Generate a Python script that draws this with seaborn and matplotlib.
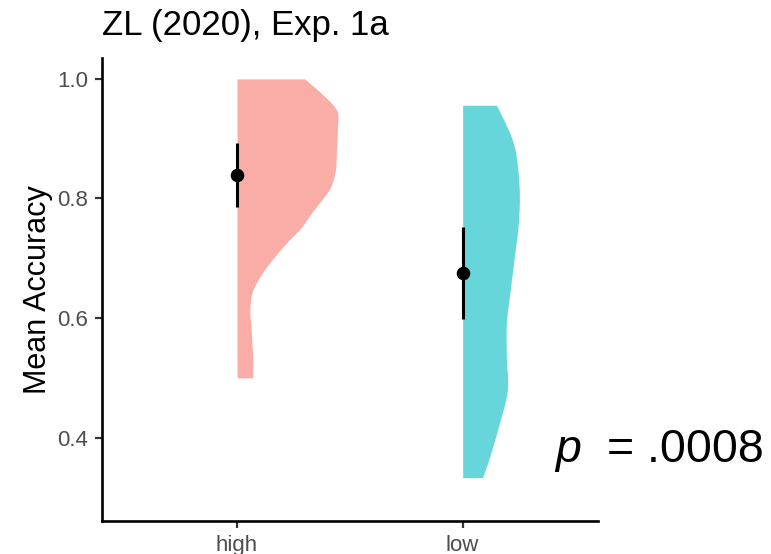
import matplotlib
matplotlib.use("Agg")
import matplotlib.pyplot as plt
import seaborn as sns
import numpy as np
import pandas as pd

# ---- data ----
categories = ["high", "low"]
colors = ["#FAADA6", "#66D6DA"]

high_levels = [1.000, 0.977, 0.948, 0.920, 0.886, 0.848, 0.819, 0.797, 0.776, 0.752,
               0.726, 0.697, 0.669, 0.642, 0.613, 0.585, 0.558, 0.530, 0.500]
high_widths = [0.300, 0.370, 0.441, 0.445, 0.441, 0.436, 0.414, 0.374, 0.330, 0.286,
               0.220, 0.154, 0.101, 0.066, 0.057, 0.062, 0.066, 0.070, 0.070]

low_levels = [0.956, 0.926, 0.898, 0.869, 0.814, 0.759, 0.702, 0.647, 0.592, 0.535,
              0.480, 0.424, 0.367, 0.333]
low_widths = [0.150, 0.189, 0.220, 0.238, 0.251, 0.247, 0.229, 0.211, 0.194, 0.194,
              0.198, 0.163, 0.119, 0.088]

means = [0.839, 0.675]
ci_low = [0.786, 0.598]
ci_high = [0.893, 0.752]

yticks = [0.4, 0.6, 0.8, 1.0]
title = "ZL (2020), Exp. 1a"
ylabel = "Mean Accuracy"
p_text = "= .0008"


def smooth_outline(levels, widths, n=12):
    """Catmull-Rom pass through the read outline points (drawing only)."""
    y = np.asarray(levels, float)
    w = np.asarray(widths, float)
    P = np.column_stack([y, w])
    P = np.vstack([P[0], P, P[-1]])
    out = []
    for k in range(1, len(P) - 2):
        p0, p1, p2, p3 = P[k - 1], P[k], P[k + 1], P[k + 2]
        for t in np.linspace(0, 1, n, endpoint=False):
            t2, t3 = t * t, t * t * t
            pt = 0.5 * ((2 * p1) + (-p0 + p2) * t + (2 * p0 - 5 * p1 + 4 * p2 - p3) * t2
                        + (-p0 + 3 * p1 - 3 * p2 + p3) * t3)
            out.append(pt)
    out.append(P[-2])
    out = np.array(out)
    return out[:, 0], np.clip(out[:, 1], 0, None)


# ---- style ----
sns.set_style("ticks")
plt.rcParams["font.family"] = ["Liberation Sans", "DejaVu Sans"]
plt.rcParams["text.color"] = "black"

fig = plt.figure(figsize=(7.71, 5.54), dpi=100)
ax = fig.add_axes([0.1319, 0.0601, 0.7756 - 0.1319, 0.8953 - 0.0601])

profiles = [(high_levels, high_widths), (low_levels, low_widths)]
for i, (lv, wd) in enumerate(profiles):
    pos = i + 1
    ys, ws = smooth_outline(lv, wd)
    ax.fill_betweenx(ys, pos, pos + ws, color=colors[i], linewidth=0, zorder=1)

df = pd.DataFrame({"x": [1, 2], "mean": means, "lo": ci_low, "hi": ci_high})
ax.vlines(df["x"], df["lo"], df["hi"], color="black", linewidth=2.2, zorder=3)
sns.scatterplot(data=df, x="x", y="mean", ax=ax, color="black", s=95,
                edgecolor="black", linewidth=0, zorder=4, legend=False)

ax.set_xlim(0.4, 2.6)
ax.set_ylim(0.261, 1.035)
ax.set_xticks([1, 2])
ax.set_xticklabels(categories)
ax.set_yticks(yticks)
ax.set_yticklabels([f"{t:.1f}" for t in yticks])
ax.set_xlabel("")
ax.set_ylabel(ylabel, fontsize=22, labelpad=2.5, color="black")
ax.tick_params(axis="both", labelsize=16, labelcolor="#4D4D4D", length=5, width=1.6,
               color="#333333", pad=5)
sns.despine(ax=ax)
for sp in ["left", "bottom"]:
    ax.spines[sp].set_linewidth(1.9)
    ax.spines[sp].set_color("black")

ax.set_title(title, loc="left", fontsize=25, pad=16.5, color="black")

ax.text(2.41, 0.36, "p", fontsize=33.5, fontstyle="italic", clip_on=False,
        ha="left", va="baseline", color="black")
ax.text(2.64, 0.36, p_text, fontsize=33.5, clip_on=False, ha="left", va="baseline",
        color="black")

fig.savefig("out.png", dpi=100)
